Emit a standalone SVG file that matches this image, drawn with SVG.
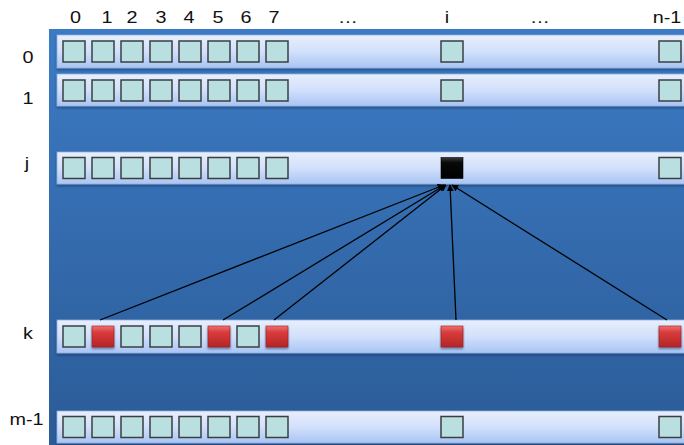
<svg xmlns="http://www.w3.org/2000/svg" width="684" height="445" viewBox="0 0 684 445">
  <defs>
    <linearGradient id="bgGrad" x1="0" y1="0" x2="0" y2="1">
      <stop offset="0" stop-color="#3c7bc4"/>
      <stop offset="1" stop-color="#2b5b97"/>
    </linearGradient>
    <linearGradient id="bandGrad" x1="0" y1="0" x2="0" y2="1">
      <stop offset="0" stop-color="#e8effd"/>
      <stop offset="0.5" stop-color="#d2e0fb"/>
      <stop offset="1" stop-color="#a8c5f4"/>
    </linearGradient>
    <linearGradient id="redGrad" x1="0" y1="0" x2="0" y2="1">
      <stop offset="0" stop-color="#f07070"/>
      <stop offset="0.3" stop-color="#d83c3c"/>
      <stop offset="1" stop-color="#b52525"/>
    </linearGradient>
    <linearGradient id="blackGrad" x1="0" y1="0" x2="0" y2="1">
      <stop offset="0" stop-color="#3a3a3a"/>
      <stop offset="0.25" stop-color="#080808"/>
      <stop offset="1" stop-color="#000"/>
    </linearGradient>
    <filter id="shadow" x="-5%" y="-20%" width="110%" height="160%">
      <feDropShadow dx="0" dy="1.5" stdDeviation="1.2" flood-color="#102a50" flood-opacity="0.6"/>
    </filter>
    <marker id="arrow" viewBox="0 0 10 10" refX="9" refY="5" markerWidth="7" markerHeight="7" markerUnits="userSpaceOnUse" orient="auto">
      <path d="M0,0 L10,5 L0,10 z" fill="#000"/>
    </marker>
  </defs>
  <style>
    .lbl { font-family: "Liberation Sans", Arial, sans-serif; font-size: 16.5px; fill: #111; text-anchor: middle; }
    .band { fill: url(#bandGrad); stroke: #8eaee0; stroke-width: 0.8; filter: url(#shadow); }
    .cell { fill: #b9dfe1; stroke: #3b3f41; stroke-width: 1.5; }
    .red { fill: url(#redGrad); stroke: #9a2020; stroke-width: 0.6; filter: url(#shadow); }
    .blk { fill: url(#blackGrad); stroke: #000; stroke-width: 0.6; }
    .conn { stroke: #000; stroke-width: 1.3; fill: none; marker-end: url(#arrow); }
  </style>

  <!-- matrix background -->
  <rect x="49" y="29" width="640" height="420" fill="url(#bgGrad)"/>

  <!-- column indices (glyphs drawn slightly widened) -->
  <g id="col-labels" class="lbl">
    <text transform="translate(75.5,23) scale(1.2,1)">0</text>
    <text transform="translate(107,23) scale(1.2,1)">1</text>
    <text transform="translate(132,23) scale(1.2,1)">2</text>
    <text transform="translate(161,23) scale(1.2,1)">3</text>
    <text transform="translate(189,23) scale(1.2,1)">4</text>
    <text transform="translate(218,23) scale(1.2,1)">5</text>
    <text transform="translate(246,23) scale(1.2,1)">6</text>
    <text transform="translate(274,23) scale(1.2,1)">7</text>
    <text transform="translate(348,23) scale(1.2,1)">…</text>
    <text transform="translate(447,23) scale(1.2,1)">i</text>
    <text transform="translate(540,23) scale(1.2,1)">…</text>
    <text transform="translate(667,23) scale(1.2,1)">n-1</text>
  </g>

  <!-- row indices -->
  <g id="row-labels" class="lbl">
    <text transform="translate(28,63) scale(1.2,1)">0</text>
    <text transform="translate(28,104) scale(1.2,1)">1</text>
    <text transform="translate(27,169) scale(1.2,1)">j</text>
    <text transform="translate(28,339) scale(1.2,1)">k</text>
    <text transform="translate(26.5,425) scale(1.2,1)">m-1</text>
  </g>

  <!-- row 0 -->
  <g id="row-0">
    <rect class="band" x="57" y="35" width="640" height="33"/>
    <rect class="cell" x="63" y="41" width="22" height="21"/>
    <rect class="cell" x="92" y="41" width="22" height="21"/>
    <rect class="cell" x="121" y="41" width="22" height="21"/>
    <rect class="cell" x="150" y="41" width="22" height="21"/>
    <rect class="cell" x="179" y="41" width="22" height="21"/>
    <rect class="cell" x="208" y="41" width="22" height="21"/>
    <rect class="cell" x="237" y="41" width="22" height="21"/>
    <rect class="cell" x="266" y="41" width="22" height="21"/>
    <rect class="cell" x="441" y="41" width="22" height="21"/>
    <rect class="cell" x="659" y="41" width="22" height="21"/>
  </g>

  <!-- row 1 -->
  <g id="row-1">
    <rect class="band" x="57" y="74" width="640" height="32"/>
    <rect class="cell" x="63" y="80" width="22" height="21"/>
    <rect class="cell" x="92" y="80" width="22" height="21"/>
    <rect class="cell" x="121" y="80" width="22" height="21"/>
    <rect class="cell" x="150" y="80" width="22" height="21"/>
    <rect class="cell" x="179" y="80" width="22" height="21"/>
    <rect class="cell" x="208" y="80" width="22" height="21"/>
    <rect class="cell" x="237" y="80" width="22" height="21"/>
    <rect class="cell" x="266" y="80" width="22" height="21"/>
    <rect class="cell" x="441" y="80" width="22" height="21"/>
    <rect class="cell" x="659" y="80" width="22" height="21"/>
  </g>

  <!-- row j -->
  <g id="row-j">
    <rect class="band" x="57" y="152" width="640" height="32"/>
    <rect class="cell" x="63" y="157.5" width="22" height="21"/>
    <rect class="cell" x="92" y="157.5" width="22" height="21"/>
    <rect class="cell" x="121" y="157.5" width="22" height="21"/>
    <rect class="cell" x="150" y="157.5" width="22" height="21"/>
    <rect class="cell" x="179" y="157.5" width="22" height="21"/>
    <rect class="cell" x="208" y="157.5" width="22" height="21"/>
    <rect class="cell" x="237" y="157.5" width="22" height="21"/>
    <rect class="cell" x="266" y="157.5" width="22" height="21"/>
    <rect class="blk" x="441" y="157.5" width="22" height="21"/>
    <rect class="cell" x="659" y="157.5" width="22" height="21"/>
  </g>

  <!-- row k -->
  <g id="row-k">
    <rect class="band" x="57" y="320" width="640" height="33"/>
    <rect class="cell" x="63" y="326" width="22" height="21"/>
    <rect class="red" x="92" y="326" width="22" height="21"/>
    <rect class="cell" x="121" y="326" width="22" height="21"/>
    <rect class="cell" x="150" y="326" width="22" height="21"/>
    <rect class="cell" x="179" y="326" width="22" height="21"/>
    <rect class="red" x="208" y="326" width="22" height="21"/>
    <rect class="cell" x="237" y="326" width="22" height="21"/>
    <rect class="red" x="266" y="326" width="22" height="21"/>
    <rect class="red" x="441" y="326" width="22" height="21"/>
    <rect class="red" x="659" y="326" width="22" height="21"/>
  </g>

  <!-- row m-1 -->
  <g id="row-m-1">
    <rect class="band" x="57" y="411" width="640" height="32"/>
    <rect class="cell" x="63" y="416.5" width="22" height="21"/>
    <rect class="cell" x="92" y="416.5" width="22" height="21"/>
    <rect class="cell" x="121" y="416.5" width="22" height="21"/>
    <rect class="cell" x="150" y="416.5" width="22" height="21"/>
    <rect class="cell" x="179" y="416.5" width="22" height="21"/>
    <rect class="cell" x="208" y="416.5" width="22" height="21"/>
    <rect class="cell" x="237" y="416.5" width="22" height="21"/>
    <rect class="cell" x="266" y="416.5" width="22" height="21"/>
    <rect class="cell" x="441" y="416.5" width="22" height="21"/>
    <rect class="cell" x="659" y="416.5" width="22" height="21"/>
  </g>

  <!-- dependencies from row k into cell (j, i) -->
  <g id="connectors">
    <line class="conn" x1="100" y1="320" x2="444" y2="185"/>
    <line class="conn" x1="223" y1="320" x2="445" y2="185"/>
    <line class="conn" x1="274" y1="320" x2="446" y2="185"/>
    <line class="conn" x1="456" y1="320" x2="450" y2="185"/>
    <line class="conn" x1="667" y1="320" x2="452" y2="185"/>
  </g>
</svg>
